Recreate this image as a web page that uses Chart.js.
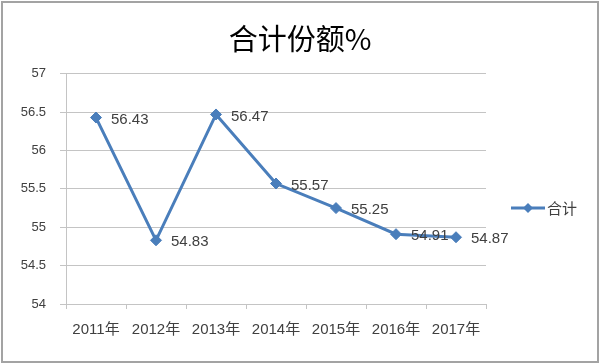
<!DOCTYPE html>
<html>
<head>
<meta charset="utf-8">
<script src="https://cdn.jsdelivr.net/npm/chart.js@4/dist/chart.umd.min.js"></script>
<style>
  html, body { margin: 0; padding: 0; background: #fff; }
  #wrap { width: 600px; height: 364px; position: relative; }
</style>
</head>
<body>
<div id="wrap"><canvas id="chart" width="600" height="364"></canvas></div>
<script>
const years = ['2011年', '2012年', '2013年', '2014年', '2015年', '2016年', '2017年'];
const totals = [56.43, 54.83, 56.47, 55.57, 55.25, 54.91, 54.87];
const yTicks = ['54', '54.5', '55', '55.5', '56', '56.5', '57'];
const seriesName = '合计';
const chartTitle = '合计份额%';

const lineColor = '#4a7ebb';
const textColor = '#404040';
const gridColor = '#c4c4c4';

// white page + grey frame
const framePlugin = {
  id: 'frame',
  beforeDraw(chart) {
    const ctx = chart.ctx;
    ctx.save();
    ctx.fillStyle = '#fff';
    ctx.fillRect(0, 0, chart.width, chart.height);
    ctx.strokeStyle = '#a3a3a3';
    ctx.lineWidth = 2;
    ctx.strokeRect(2, 2, chart.width - 4, chart.height - 4);
    ctx.restore();
  },
};

// value labels right of each point
const valueLabels = {
  id: 'valueLabels',
  afterDatasetsDraw(chart) {
    const ctx = chart.ctx;
    const meta = chart.getDatasetMeta(0);
    ctx.save();
    ctx.font = '15px "Liberation Sans", Arial, sans-serif';
    ctx.fillStyle = textColor;
    ctx.textAlign = 'left';
    ctx.textBaseline = 'middle';
    meta.data.forEach((pt, i) => {
      ctx.fillText(totals[i].toFixed(2), pt.x + 15, pt.y + 2);
    });
    ctx.restore();
  },
};

// legend on the right: line with diamond, then the name
const sideLegend = {
  id: 'sideLegend',
  afterDraw(chart) {
    const ctx = chart.ctx;
    const y = 208;
    ctx.save();
    ctx.strokeStyle = lineColor;
    ctx.lineWidth = 3;
    ctx.beginPath();
    ctx.moveTo(511, y);
    ctx.lineTo(545, y);
    ctx.stroke();
    ctx.fillStyle = lineColor;
    ctx.beginPath();
    ctx.moveTo(528, y - 5);
    ctx.lineTo(533, y);
    ctx.lineTo(528, y + 5);
    ctx.lineTo(523, y);
    ctx.closePath();
    ctx.fill();
    ctx.font = '15px "Noto Sans CJK SC", sans-serif';
    ctx.fillStyle = textColor;
    ctx.textBaseline = 'middle';
    ctx.fillText(seriesName, 547, y);
    ctx.restore();
  },
};

new Chart(document.getElementById('chart'), {
  type: 'line',
  data: {
    labels: years,
    datasets: [{
      label: seriesName,
      data: totals,
      borderColor: lineColor,
      backgroundColor: lineColor,
      borderWidth: 3,
      pointStyle: 'rectRot',
      pointRadius: 5.5,
      pointHoverRadius: 5.5,
      pointBorderWidth: 1,
      tension: 0,
      fill: false,
    }],
  },
  options: {
    responsive: false,
    animation: false,
    events: [],
    layout: { padding: { left: 0, right: 0, top: 0, bottom: 18 } },
    plugins: {
      legend: { display: false },
      tooltip: { enabled: false },
      title: {
        display: true,
        text: chartTitle,
        color: '#000',
        font: { family: '"Noto Sans CJK SC", sans-serif', size: 29, weight: 'normal', lineHeight: 1.2 },
        padding: { top: 22, bottom: 17 },
      },
    },
    scales: {
      x: {
        offset: true,
        grid: { offset: true, drawOnChartArea: false, drawTicks: true, tickLength: 5, color: gridColor },
        border: { color: gridColor, width: 1 },
        ticks: {
          color: textColor,
          padding: 12,
          maxRotation: 0,
          font: { family: '"Liberation Sans", "Noto Sans CJK SC", sans-serif', size: 15 },
        },
        afterFit(scale) { scale.height = 42; },
      },
      y: {
        min: 54,
        max: 57,
        ticks: {
          stepSize: 0.5,
          color: textColor,
          padding: 14,
          font: { family: '"Liberation Sans", Arial, sans-serif', size: 13 },
          callback: (v) => yTicks[Math.round((v - 54) * 2)],
        },
        grid: { color: gridColor, tickLength: 6 },
        border: { color: gridColor, width: 1 },
        afterFit(scale) { scale.width = 66; },
      },
      // empty box on the right that keeps room for the legend
      legendRoom: {
        type: 'linear',
        position: 'right',
        display: true,
        grid: { display: false, drawTicks: false },
        border: { display: false },
        ticks: { display: false },
        afterFit(scale) { scale.width = 114; },
      },
    },
  },
  plugins: [framePlugin, valueLabels, sideLegend],
});
</script>
</body>
</html>
